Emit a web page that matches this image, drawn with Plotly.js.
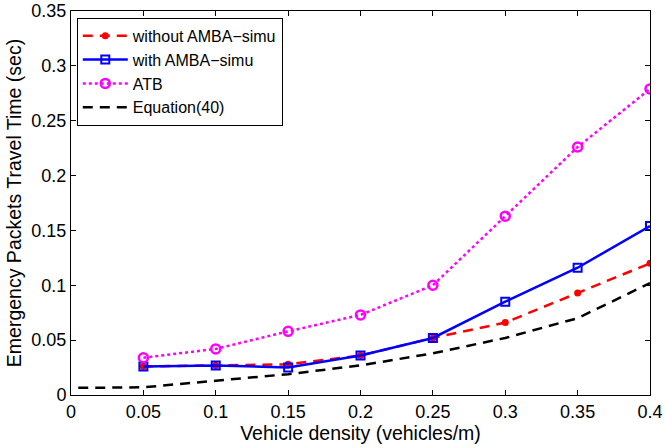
<!DOCTYPE html>
<html>
<head>
<meta charset="utf-8">
<script src="https://cdn.plot.ly/plotly-3.0.1.min.js"></script>
<style>html,body{margin:0;padding:0;background:#fff;}#chart{width:665px;height:448px;}</style>
</head>
<body>
<div id="chart"></div>
<script>
const density = [0.05, 0.1, 0.15, 0.2, 0.25, 0.3, 0.35, 0.4];
const withoutAMBA = [0.026, 0.027, 0.028, 0.036, 0.052, 0.066, 0.093, 0.120];
const withAMBA = [0.026, 0.027, 0.025, 0.036, 0.052, 0.085, 0.116, 0.154];
const atb = [0.034, 0.042, 0.058, 0.073, 0.100, 0.163, 0.226, 0.279];
const eqDensity = [0.005, 0.05, 0.1, 0.15, 0.2, 0.25, 0.3, 0.35, 0.4];
const equation40 = [0.0065, 0.007, 0.013, 0.019, 0.027, 0.038, 0.052, 0.070, 0.102];
const xTicks = [0, 0.05, 0.1, 0.15, 0.2, 0.25, 0.3, 0.35, 0.4];
const xTickText = ['0', '0.05', '0.1', '0.15', '0.2', '0.25', '0.3', '0.35', '0.4'];
const yTicks = [0, 0.05, 0.1, 0.15, 0.2, 0.25, 0.3, 0.35];
const yTickText = ['0', '0.05', '0.1', '0.15', '0.2', '0.25', '0.3', '0.35'];

const traces = [
  {x: density, y: withoutAMBA, name: 'without AMBA\u2212simu', mode: 'lines+markers',
   line: {color: '#ff0000', width: 2.5, dash: '10px,7px'},
   marker: {symbol: 'circle', size: 7, color: '#ff0000'}},
  {x: density, y: withAMBA, name: 'with AMBA\u2212simu', mode: 'lines+markers',
   line: {color: '#0000ff', width: 2.5},
   marker: {symbol: 'square-open', size: 8, color: '#0000ff', line: {width: 2}}},
  {x: density, y: atb, name: 'ATB', mode: 'lines+markers',
   line: {color: '#ff00ff', width: 2.5, dash: 'dot'},
   marker: {symbol: 'circle-open', size: 9, color: '#ff00ff', line: {width: 2.5}}},
  {x: eqDensity, y: equation40, name: 'Equation(40)', mode: 'lines',
   line: {color: '#000000', width: 2.5, dash: '10px,7px'}}
];

const layout = {
  width: 665, height: 448,
  margin: {l: 71, r: 15, t: 11, b: 53},
  paper_bgcolor: '#fff', plot_bgcolor: '#fff',
  font: {family: 'Liberation Sans, Arial, sans-serif', size: 18, color: '#000'},
  showlegend: true,
  legend: {x: 0.01, y: 0.982, xanchor: 'left', yanchor: 'top',
           bordercolor: '#000', borderwidth: 1, bgcolor: '#fff',
           font: {size: 16}, tracegroupgap: 0, itemwidth: 45},
  xaxis: {range: [0, 0.4], tickmode: 'array', tickvals: xTicks, ticktext: xTickText,
          ticks: 'inside', ticklen: 5, tickcolor: '#000', showline: true, linecolor: '#000',
          linewidth: 1, mirror: 'ticks', showgrid: false, zeroline: false,
          title: {text: 'Vehicle density (vehicles/m)', font: {size: 19.5}, standoff: 2}},
  yaxis: {range: [0, 0.35], tickmode: 'array', tickvals: yTicks, ticktext: yTickText,
          ticks: 'inside', ticklen: 5, tickcolor: '#000', showline: true, linecolor: '#000',
          linewidth: 1, mirror: 'ticks', showgrid: false, zeroline: false,
          title: {text: 'Emergency Packets Travel Time (sec)', font: {size: 19.5}, standoff: 4}}
};

Plotly.newPlot('chart', traces, layout, {displayModeBar: false, staticPlot: true});
</script>
</body>
</html>
